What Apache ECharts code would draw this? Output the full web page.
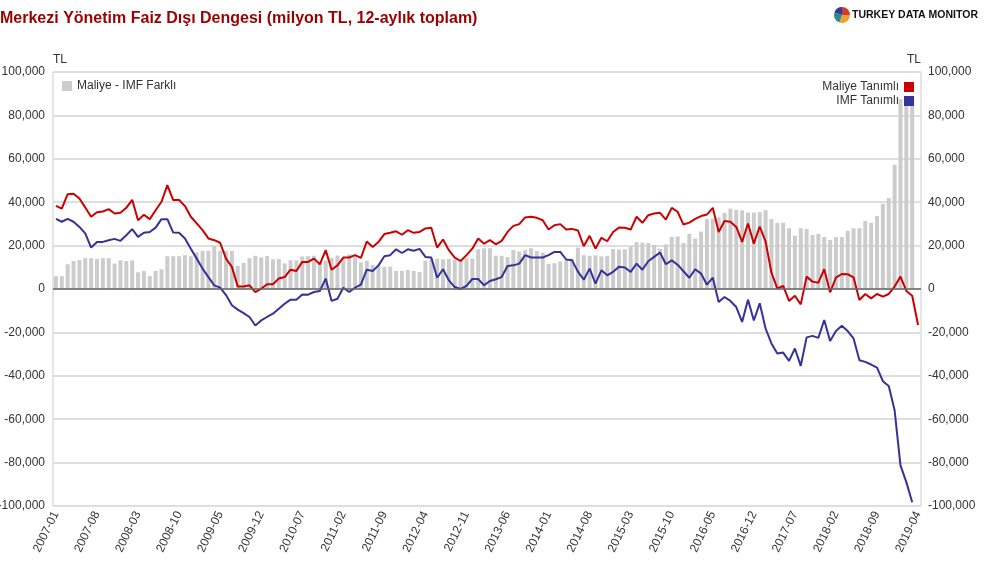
<!DOCTYPE html>
<html>
<head>
<meta charset="utf-8">
<script src="https://cdn.jsdelivr.net/npm/echarts@6/dist/echarts.min.js"></script>
<style>
html,body{margin:0;padding:0;background:#fff;}
#chart{width:985px;height:578px;}
</style>
</head>
<body>
<div id="chart"></div>
<script>
// Monthly categories 2007-01 .. 2019-04
const categories = [];
for (let y = 2007; y <= 2019; y++) {
  for (let m = 1; m <= 12; m++) {
    if (y === 2019 && m > 4) break;
    categories.push(y + '-' + (m < 10 ? '0' + m : '' + m));
  }
}

const yTicks = [-100000, -80000, -60000, -40000, -20000, 0, 20000, 40000, 60000, 80000, 100000];

// Maliye Tanımlı (red)
const maliye = [
  38300, 37000, 43700, 43900, 41700, 37600, 33300, 35400, 35700, 36800,
  34800, 35100, 37400, 41100, 31700, 34200, 32200, 36300, 40200, 47900,
  41000, 41000, 38200, 33300, 30200, 27100, 23300, 22500, 21300, 14000,
  10200, 1200, 1200, 1700, -1400, 150, 2200, 2200, 4800, 5500,
  8900, 8300, 12500, 12500, 14000, 11400, 17900, 8900, 10900, 14500,
  14500, 15600, 14300, 21900, 19400, 21700, 25300, 25900, 26600, 25000,
  27100, 25900, 26300, 27900, 28200, 19100, 22800, 17900, 14500, 12900,
  15600, 18600, 23300, 20900, 22500, 20600, 22200, 26300, 29100, 29900,
  33000, 33300, 32800, 31700, 27400, 29400, 29900, 27400, 27700, 27000,
  19700, 24500, 18600, 23600, 22000, 26300, 28300, 28200, 27400, 33300,
  30500, 34000, 34800, 35100, 32000, 37400, 35600, 29700, 30600, 32300,
  33600, 34300, 37400, 26300, 31300, 31000, 28600, 21700, 30200, 20900,
  28800, 21900, 7500, 300, 1400, -5500, -3100, -7100, 5700, 3400,
  2900, 9100, -1500, 5200, 6900, 6800, 5400, -5100, -2300, -4300,
  -2300, -3500, -2300, 1100, 5700, -900, -3100, -16600
];

// IMF Tanımlı (blue)
const imf = [
  32300, 31000, 32300, 31000, 28600, 25600, 19100, 21700, 21700, 22500,
  23100, 22200, 24800, 27600, 24000, 25900, 26300, 28300, 32200, 32200,
  26000, 25900, 23300, 18600, 14000, 9400, 5500, 1700, 600, -2800,
  -7500, -9500, -11100, -12900, -16800, -14500, -12900, -11400, -9100, -6800,
  -4900, -4900, -2500, -2600, -1400, -900, 4800, -5500, -4500, 600,
  -1400, 600, 2000, 8900, 8300, 10900, 15100, 15600, 18300, 16600,
  18300, 17600, 18500, 14800, 14500, 5200, 9100, 4000, 900, 0,
  1400, 4600, 4600, 1700, 3700, 4500, 5500, 10600, 10900, 11700,
  15600, 14500, 14500, 14500, 15600, 17100, 17100, 13600, 13200, 8000,
  4300, 9400, 2500, 8600, 6300, 7900, 10200, 9900, 7900, 11700,
  8900, 12800, 14800, 16800, 11400, 13200, 11200, 8200, 5200, 9100,
  7100, 2000, 5200, -6000, -3700, -5500, -8300, -15200, -4900, -14500,
  -6600, -18200, -25100, -29700, -29300, -33100, -27400, -35400, -22300, -21600,
  -22500, -14300, -24000, -19300, -16900, -19400, -22800, -32800, -33600, -34800,
  -36200, -42500, -44700, -55900, -81300, -89000, -98300, null
];

// Maliye - IMF Farklı (grey bars)
const fark = [
  5900, 5900, 11400, 12900, 13400, 14200, 14200, 13900, 14200, 14200,
  11700, 13200, 12900, 13200, 7700, 8300, 5900, 8300, 9100, 15100,
  15100, 15100, 15600, 15100, 16900, 17600, 17600, 20000, 17600, 17600,
  17600, 10700, 12000, 14200, 15300, 14600, 15200, 13700, 13800, 11800,
  13300, 13200, 15000, 15100, 15300, 12300, 13100, 14400, 15400, 13900,
  15900, 15000, 12300, 13000, 11100, 10800, 10200, 10300, 8300, 8300,
  8800, 8300, 7800, 13100, 13700, 13900, 13700, 13900, 13600, 12900,
  14200, 14000, 18300, 18800, 18800, 15300, 15300, 14700, 18000, 17300,
  18000, 18800, 17500, 16800, 11600, 11900, 12700, 13200, 14000, 19100,
  15600, 15300, 15500, 15000, 15200, 18400, 18200, 18300, 19500, 21600,
  21400, 21200, 20400, 18500, 20600, 24000, 24200, 21200, 25400, 23300,
  26500, 32200, 32400, 33000, 35100, 37000, 36500, 36200, 35300, 35200,
  35400, 36300, 32200, 30500, 30500, 28000, 24500, 28000, 27700, 24900,
  25400, 24000, 22600, 23900, 23900, 26800, 28000, 28000, 31400, 30500,
  33700, 39300, 41900, 57300, 87500, 88500, 89000, null
];

const chart = echarts.init(document.getElementById('chart'), null, {renderer: 'canvas'});
const fmt = v => v.toLocaleString('en-US');
const FONT = 'Liberation Sans, Arial, sans-serif';

const yBase = {
  type: 'value',
  min: yTicks[0],
  max: yTicks[yTicks.length - 1],
  interval: 20000,
  name: 'TL',
  nameLocation: 'end',
  nameGap: 6,
  axisLine: {show: false},
  axisTick: {show: false},
  axisLabel: {formatter: fmt, color: '#333', fontSize: 12, fontFamily: FONT},
};

const option = {
  animation: false,
  backgroundColor: '#fff',
  title: {
    text: 'Merkezi Yönetim Faiz Dışı Dengesi (milyon TL, 12-aylık toplam)',
    left: 0, top: 11, padding: 0,
    textStyle: {color: '#990000', fontSize: 16, fontWeight: 'bold', fontFamily: FONT}
  },
  grid: {
    left: 53, right: 64, top: 72, bottom: 72,
    show: true, borderColor: '#cccccc', borderWidth: 1,
    containLabel: false, outerBoundsMode: 'none'
  },
  legend: [
    {
      data: ['Maliye - IMF Farklı'],
      left: 57, top: 75,
      icon: 'rect', itemWidth: 10, itemHeight: 10, itemGap: 4,
      textStyle: {color: '#333', fontSize: 12, fontFamily: FONT}
    },
    {
      data: ['Maliye Tanımlı', 'IMF Tanımlı'],
      right: 66, top: 76, orient: 'vertical', align: 'right',
      icon: 'rect', itemWidth: 10, itemHeight: 10, itemGap: 2,
      textStyle: {color: '#333', fontSize: 12, fontFamily: FONT}
    }
  ],
  xAxis: {
    type: 'category',
    data: categories,
    boundaryGap: true,
    axisLine: {show: false, onZero: false},
    axisTick: {show: false},
    axisLabel: {interval: 6, rotate: 64, color: '#333', fontSize: 12, fontFamily: FONT, margin: 6},
    splitLine: {show: false}
  },
  yAxis: [
    Object.assign({}, yBase, {
      position: 'left',
      nameTextStyle: {align: 'left', color: '#333', fontSize: 12, fontFamily: FONT},
      axisLabel: Object.assign({}, yBase.axisLabel, {margin: 8}),
      splitLine: {show: true, lineStyle: {color: '#dedede', width: 2}}
    }),
    Object.assign({}, yBase, {
      position: 'right',
      nameTextStyle: {align: 'right', color: '#333', fontSize: 12, fontFamily: FONT},
      axisLabel: Object.assign({}, yBase.axisLabel, {margin: 7}),
      splitLine: {show: false}
    })
  ],
  series: [
    {
      name: 'Maliye - IMF Farklı',
      type: 'bar',
      data: fark,
      barWidth: 4,
      itemStyle: {color: '#cccccc'},
      z: 1,
      markLine: {
        silent: true, symbol: 'none',
        label: {show: false},
        lineStyle: {color: '#666666', type: 'solid', width: 1.5},
        data: [{yAxis: 0}]
      }
    },
    {
      name: 'Maliye Tanımlı',
      type: 'line',
      data: maliye,
      symbol: 'none',
      itemStyle: {color: '#cc0000'},
      lineStyle: {color: '#cc0000', width: 2},
      z: 3
    },
    {
      name: 'IMF Tanımlı',
      type: 'line',
      data: imf,
      symbol: 'none',
      itemStyle: {color: '#333399'},
      lineStyle: {color: '#333399', width: 2},
      z: 3
    }
  ],
  graphic: [
    {type: 'sector', shape: {cx: 842, cy: 15, r: 8, r0: 0, startAngle: -Math.PI / 2, endAngle: 0}, style: {fill: '#d23a2e'}},
    {type: 'sector', shape: {cx: 842, cy: 15, r: 8, r0: 0, startAngle: 0, endAngle: Math.PI * 0.6}, style: {fill: '#f0a030'}},
    {type: 'sector', shape: {cx: 842, cy: 15, r: 8, r0: 0, startAngle: Math.PI * 0.6, endAngle: Math.PI * 1.1}, style: {fill: '#2e8b8b'}},
    {type: 'sector', shape: {cx: 842, cy: 15, r: 8, r0: 0, startAngle: Math.PI * 1.1, endAngle: Math.PI * 1.5}, style: {fill: '#2d3f8f'}},
    {type: 'text', left: 852, top: 10, style: {text: 'TURKEY DATA MONITOR', fill: '#111', font: 'bold 10.5px ' + FONT}}
  ]
};
chart.setOption(option);
</script>
</body>
</html>
